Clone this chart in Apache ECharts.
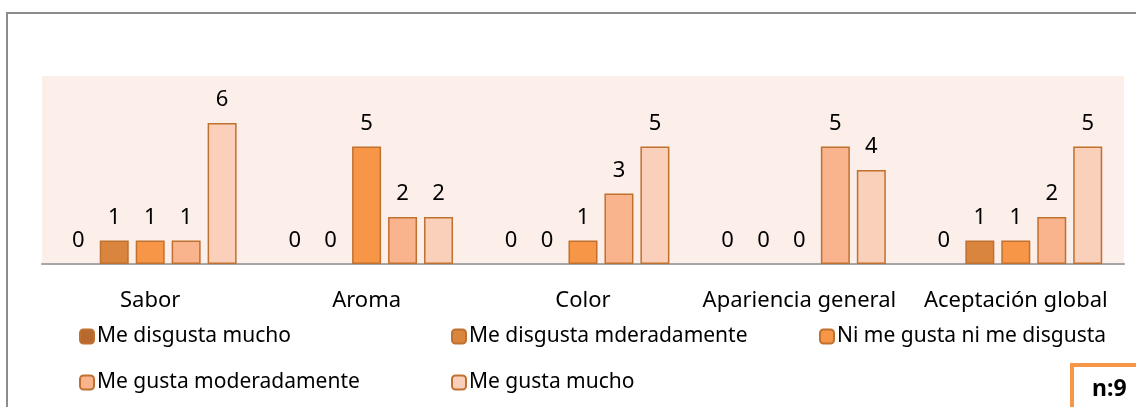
<!DOCTYPE html>
<html>
<head>
<meta charset="utf-8">
<script src="https://cdn.jsdelivr.net/npm/echarts@6/dist/echarts.min.js"></script>
<style>
  html, body { margin: 0; padding: 0; background: #fff; }
  #chart { width: 1136px; height: 407px; }
</style>
</head>
<body>
<div id="chart"></div>
<script>
var categories = ['Sabor', 'Aroma', 'Color', 'Apariencia general', 'Aceptación global']
var seriesNames = [
  'Me disgusta mucho',
  'Me disgusta mderadamente',
  'Ni me gusta ni me disgusta',
  'Me gusta moderadamente',
  'Me gusta mucho'
]
var muchoDisgusto = [0, 0, 0, 0, 0]
var disgustoModerado = [1, 0, 0, 0, 1]
var neutral = [1, 5, 1, 0, 1]
var gustoModerado = [1, 2, 3, 5, 2]
var muchoGusto = [6, 2, 5, 4, 5]
var sampleLabel = 'n:9'

var colors = ['#B8692F', '#D9853E', '#F79646', '#F9B48E', '#FBD0BA']
var values = [muchoDisgusto, disgustoModerado, neutral, gustoModerado, muchoGusto]
var font = 'Noto Sans'

var myChart = echarts.init(document.getElementById('chart'))

// one legend per item so the columns sit where the original has them
var legendPos = [[74, 321], [446, 321], [814, 321], [74, 367], [446, 367]]
var legends = seriesNames.map(function (name, i) {
  return {
    data: [name],
    left: legendPos[i][0],
    top: legendPos[i][1],
    itemWidth: 14,
    itemHeight: 14,
    itemGap: 0,
    selectedMode: false,
    textStyle: { fontFamily: font, fontSize: 21, color: '#000', padding: [0, 0, 0, -2] }
  }
})

var option = {
  animation: false,
  backgroundColor: '#fff',
  legend: legends,
  grid: { left: 42, right: 12, top: 76, bottom: 143, backgroundColor: '#FCEEE9', show: true, borderWidth: 0 },
  xAxis: {
    type: 'category',
    data: categories,
    axisLine: { lineStyle: { color: '#A6A6A6', width: 2 } },
    axisTick: { show: false },
    axisLabel: { fontFamily: font, fontSize: 22, color: '#000', margin: 26, interval: 0 }
  },
  yAxis: {
    type: 'value',
    min: 0,
    max: 8,
    show: false,
    splitLine: { show: false }
  },
  series: values.map(function (d, i) {
    return {
      name: seriesNames[i],
      type: 'bar',
      // zero bars get no outline so nothing shows on the baseline
      data: d.map(function (v) {
        return v === 0 ? { value: v, itemStyle: { borderWidth: 0 } } : v
      }),
      barWidth: 29,
      barGap: '24%',
      itemStyle: { color: colors[i], borderColor: '#C0702F', borderWidth: 1.5 },
      label: { show: true, position: 'top', distance: 12, fontFamily: font, fontSize: 22, color: '#000' }
    }
  }),
  graphic: [
    {
      // outer frame: only the left and top edges are inside the picture
      type: 'polyline',
      shape: { points: [[7, 420], [7, 13], [1150, 13]] },
      style: { fill: 'none', stroke: '#8C8C8C', lineWidth: 2 },
      z: -1
    },
    {
      type: 'polyline',
      shape: { points: [[1072, 420], [1072, 365], [1150, 365]] },
      style: { fill: 'none', stroke: '#F79646', lineWidth: 4 }
    },
    {
      type: 'text',
      left: 1092,
      top: 378,
      style: { text: sampleLabel, fontFamily: font, fontSize: 23, fontWeight: 'bold', fill: '#000' }
    }
  ]
}
myChart.setOption(option)
</script>
</body>
</html>
